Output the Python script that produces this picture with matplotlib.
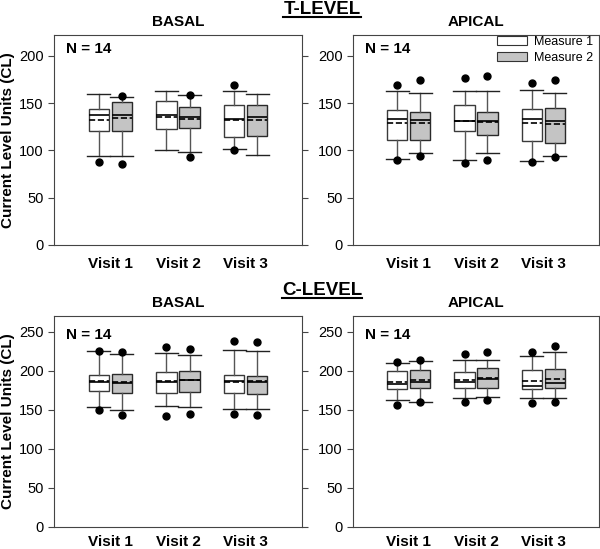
import numpy as np
from matplotlib import pyplot as plt
from matplotlib.patches import Patch
from matplotlib.lines import Line2D

plt.rcParams['font.family'] = ['Liberation Sans', 'DejaVu Sans']

visits = ['Visit 1', 'Visit 2', 'Visit 3']

# (whisker low, Q1, median, mean, Q3, whisker high) per visit
t_basal_m1 = [(94, 121, 137, 132, 143.5, 159.5), (100, 123, 137, 135, 152, 162.5), (102, 114, 133, 132, 147.5, 162.5)]
t_basal_m2 = [(94, 121, 137, 134, 151, 156), (98, 123.5, 135, 133, 146, 159), (95.5, 115, 135, 132, 147.5, 159.5)]
t_basal_m1_out = [[88], [], [100.5, 169]]
t_basal_m2_out = [[86, 157], [93.5, 159], []]

t_apical_m1 = [(91, 111.5, 133.5, 129, 143, 162.5), (90, 120, 131.5, 131, 147.5, 162.5), (89, 109.5, 133.5, 129, 144, 164)]
t_apical_m2 = [(97, 111.5, 132.5, 129, 141, 161), (97, 116, 131.5, 130, 141, 162.5), (94.5, 108, 131.5, 128, 145, 161)]
t_apical_m1_out = [[90, 169.5], [87, 176.5], [87.5, 171.5]]
t_apical_m2_out = [[94, 174], [89.5, 178.5], [93.5, 174]]

c_basal_m1 = [(153.5, 174, 185.5, 187, 194, 225), (154.5, 171, 185.5, 187, 198.5, 223), (151.5, 171.5, 187, 186, 195, 226)]
c_basal_m2 = [(150, 172, 184, 185, 195.5, 221), (154, 172.5, 187.5, 188, 200, 220.5), (151.5, 170, 185.5, 187, 193.5, 225)]
c_basal_m1_out = [[149.5, 225.5], [142, 230], [145, 238]]
c_basal_m2_out = [[143.5, 224.5], [145, 228], [143, 237]]

c_apical_m1 = [(162, 177, 182.5, 186, 200, 210), (164.5, 178.5, 185, 188, 198.5, 214), (164.5, 177, 181, 187, 201, 219)]
c_apical_m2 = [(160.5, 178, 185.5, 188, 201, 213), (166.5, 178.5, 189, 190.5, 203.5, 214), (165, 178, 184, 189, 202.5, 223.5)]
c_apical_m1_out = [[155.5, 211], [160, 221], [158.5, 224]]
c_apical_m2_out = [[160, 214], [162, 224], [160, 231]]

fig = plt.figure(figsize=(6, 5.49), dpi=100)
W, H = 600, 549


def add_ax(x0, x1, ytop, ybot):
    return fig.add_axes([x0 / W, 1 - ybot / H, (x1 - x0) / W, (ybot - ytop) / H])


def draw_panel(ax, m1, m1_out, m2, m2_out, ymax, ystep, label_pad, n_y):
    pos = np.arange(1, 4)
    for stats, outs, off, fc, ec in [(m1, m1_out, -0.17, 'white', '#3a3a3a'),
                                     (m2, m2_out, 0.17, '#c4c4c4', '#2a2a2a')]:
        bstats = [dict(whislo=s[0], q1=s[1], med=s[2], mean=s[3], q3=s[4], whishi=s[5], fliers=o)
                  for s, o in zip(stats, outs)]
        ax.bxp(bstats, positions=pos + off, widths=0.3, capwidths=0.34, patch_artist=True,
               showmeans=True, meanline=True, manage_ticks=False,
               boxprops=dict(facecolor=fc, edgecolor=ec, linewidth=1),
               whiskerprops=dict(color='#555555', linewidth=1),
               capprops=dict(color='#222222', linewidth=1),
               medianprops=dict(color='black', linewidth=1.2),
               meanprops=dict(color='black', linestyle='--', linewidth=1.2),
               flierprops=dict(marker='o', markerfacecolor='black', markeredgecolor='black', markersize=5))
    ax.set_xlim(0.17, 3.83)
    ax.set_ylim(0, ymax)
    ax.set_yticks(np.arange(0, ymax, ystep))
    ax.set_xticks(pos)
    ax.set_xticklabels(visits, fontweight='bold', fontsize=11)
    ax.tick_params(axis='x', length=0, pad=label_pad)
    ax.tick_params(axis='y', labelsize=10.5, right=True, length=4, color='#444444')
    for sp in ax.spines.values():
        sp.set_color('#444444')
    ax.text(0.05, n_y, 'N = 14', transform=ax.transAxes, fontsize=11, fontweight='bold',
            va='top', ha='left')


ax_tl = add_ax(54, 302, 35, 245)
ax_tr = add_ax(353, 599, 35, 245)
ax_bl = add_ax(54, 302, 316, 527)
ax_br = add_ax(353, 599, 316, 527)

draw_panel(ax_tl, t_basal_m1, t_basal_m1_out, t_basal_m2, t_basal_m2_out, 222, 50, 9, 0.968)
draw_panel(ax_tr, t_apical_m1, t_apical_m1_out, t_apical_m2, t_apical_m2_out, 222, 50, 9, 0.968)
draw_panel(ax_bl, c_basal_m1, c_basal_m1_out, c_basal_m2, c_basal_m2_out, 270, 50, 5.5, 0.945)
draw_panel(ax_br, c_apical_m1, c_apical_m1_out, c_apical_m2, c_apical_m2_out, 270, 50, 5.5, 0.945)

for ax in (ax_tl, ax_bl):
    ax.set_ylabel('Current Level Units (CL)', fontweight='bold', fontsize=11)
    ax.yaxis.set_label_coords(-0.158, 0.5)

ax_tr.legend(handles=[Patch(facecolor='white', edgecolor='#333333', linewidth=0.8, label='Measure 1'),
                      Patch(facecolor='#c4c4c4', edgecolor='#333333', linewidth=0.8, label='Measure 2')],
             loc='upper right', bbox_to_anchor=(0.975, 0.995), frameon=False, fontsize=9,
             handlelength=2.4, handleheight=0.7, handletextpad=0.5, labelspacing=0.3,
             borderpad=0, borderaxespad=0)

# panel headings
for txt, yb in [('BASAL', 26), ('BASAL', 307)]:
    fig.text(178 / W, 1 - yb / H, txt, ha='center', va='baseline', fontsize=11, fontweight='bold')
for txt, yb in [('APICAL', 26), ('APICAL', 307)]:
    fig.text(476 / W, 1 - yb / H, txt, ha='center', va='baseline', fontsize=11, fontweight='bold')

titles = []
for txt, yb in [('T-LEVEL', 14), ('C-LEVEL', 295)]:
    titles.append((fig.text(322 / W, 1 - yb / H, txt, ha='center', va='baseline',
                            fontsize=13.5, fontweight='bold'), yb))

fig.canvas.draw()
for t, yb in titles:
    bb = t.get_window_extent()
    fig.add_artist(Line2D([bb.x0 / W, bb.x1 / W], [1 - (yb + 2.5) / H] * 2,
                          transform=fig.transFigure, color='black', linewidth=1.5))

plt.savefig('out.png', dpi=100)
